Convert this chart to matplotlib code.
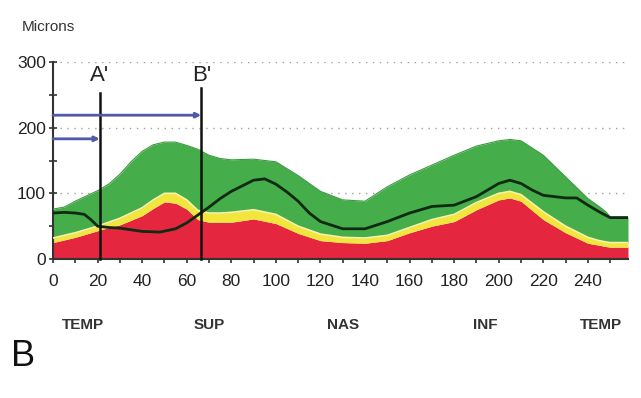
import numpy as np
import matplotlib.pyplot as plt

plt.rcParams['font.family'] = ['Liberation Sans', 'DejaVu Sans']

# normative bands (microns) sampled along the TSNIT circle
band_x = [0, 5, 10, 20, 25, 30, 35, 40, 45, 50, 55, 60, 65, 70, 75, 80, 90, 100, 110, 120, 130, 140,
          150, 160, 170, 180, 190, 200, 205, 210, 220, 230, 240, 245, 248, 250, 258]
green_top = [76, 79, 88, 104, 114, 129, 148, 164, 174, 178, 178, 173, 167, 158, 153, 151, 152, 148, 127, 103, 90, 88,
             110, 128, 143, 158, 172, 180, 182, 180, 158, 125, 92, 80, 72, 64, 64]
yellow_top = [32, 36, 40, 50, 56, 62, 70, 78, 90, 100, 100, 90, 74, 70, 70, 71, 75, 68, 50, 38, 33, 32,
              36, 48, 60, 68, 86, 100, 103, 98, 72, 50, 33, 28, 26, 25, 25]
red_top = [25, 29, 33, 43, 48, 52, 59, 66, 77, 87, 85, 76, 60, 56, 56, 56, 61, 54, 39, 28, 25, 24,
           28, 40, 50, 57, 75, 90, 93, 88, 60, 40, 24, 21, 19, 18, 18]

# patient RNFL thickness
pt_x = [0, 5, 10, 14, 17, 20, 25, 30, 40, 48, 55, 60, 65, 70, 75, 80, 90, 95, 100, 105, 110,
        115, 120, 130, 140, 150, 160, 170, 180, 190, 200, 205, 210, 215, 220, 230, 235, 240,
        245, 250, 258]
pt_y = [70, 71, 70, 68, 60, 50, 48, 47, 42, 41, 46, 55, 67, 79, 92, 103, 120, 122, 114, 102, 88,
        70, 57, 46, 46, 57, 70, 80, 82, 95, 115, 120, 115, 105, 97, 93, 93, 82,
        72, 63, 63]

# markers
mark_x = [21, 66.5]
mark_top = [253, 260]
mark_lbl = ["A'", "B'"]
arrow_y = [219, 183]

sector_x = [13.5, 70, 130, 194, 246]
sector_lbl = ['TEMP', 'SUP', 'NAS', 'INF', 'TEMP']

fig = plt.figure(figsize=(6.41, 3.98), dpi=100)
ax = fig.add_axes([53 / 641, 1 - 259 / 398, (628 - 53) / 641, (259 - 62) / 398])

ax.fill_between(band_x, 0, red_top, color='#e5263f', lw=0, zorder=2)
ax.fill_between(band_x, red_top, yellow_top, color='#f2e53c', lw=0, zorder=2)
ax.fill_between(band_x, yellow_top, green_top, color='#45ad4a', lw=0, zorder=2)
ax.plot(band_x, yellow_top, color='#fbf3a8', lw=1.2, zorder=3)
ax.plot(band_x, green_top, color='#3a9a40', lw=0.8, zorder=3)
ax.plot(pt_x, pt_y, color='#102a14', lw=2.0, zorder=4)

for gy in [100, 200, 300]:
    ax.axhline(gy, color='#a0a0a0', lw=1.0, ls=(0, (1, 4)), zorder=1)

for mx, mt, ml in zip(mark_x, mark_top, mark_lbl):
    ax.plot([mx, mx], [0, mt], color='#111111', lw=1.8, zorder=5, clip_on=False)
    ax.text(mx, 279, ml, ha='center', va='center', fontsize=16, color='#222222')

for ay, mx in zip(arrow_y, mark_x[::-1]):
    ax.annotate('', xy=(mx, ay), xytext=(0, ay),
                arrowprops=dict(arrowstyle='-|>', color='#4f5aa8', lw=2,
                                mutation_scale=7, shrinkA=0, shrinkB=0), zorder=6)

ax.set_xlim(0, 258)
ax.set_ylim(0, 300)
ax.set_xticks(range(0, 241, 20))
ax.set_xticks(range(0, 256, 10), minor=True)
ax.set_yticks([0, 100, 200, 300])
ax.set_yticks([50, 150, 250], minor=True)
ax.tick_params(which='both', direction='inout', length=6, width=1.2, color='#333333',
               labelsize=12.5, labelcolor='#222222')
ax.tick_params(axis='x', pad=8)
ax.tick_params(axis='y', pad=2)
for s in ['top', 'right']:
    ax.spines[s].set_visible(False)
for s in ['left', 'bottom']:
    ax.spines[s].set_color('#333333')
    ax.spines[s].set_linewidth(1.5)
ax.set_facecolor('white')

for sx, sl in zip(sector_x, sector_lbl):
    ax.text(sx, -100, sl, ha='center', va='center', fontsize=11, fontweight='bold',
            color='#333333')

fig.text(22 / 641, 1 - 27 / 398, 'Microns', ha='left', va='center', fontsize=11, color='#333333')
fig.text(23 / 641, 1 - 357 / 398, 'B', ha='center', va='center', fontsize=26, color='#111111')

fig.savefig('out.png', dpi=100)
